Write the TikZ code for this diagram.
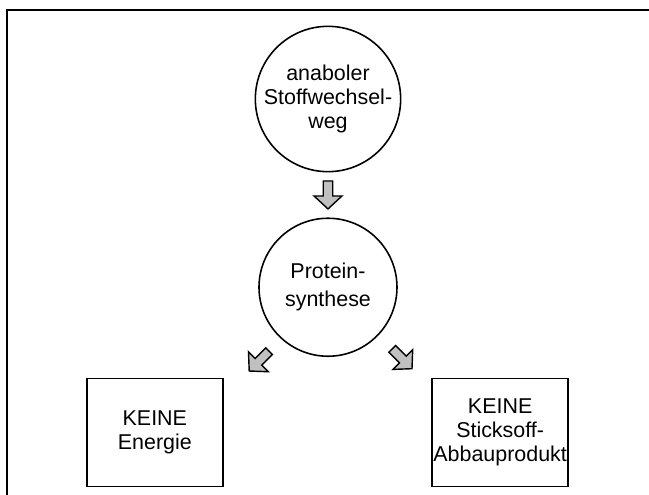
\documentclass[tikz,border=0pt]{standalone}
\usepackage{fontspec}
\setmainfont{Liberation Sans}
\usepackage{tikz}
\usetikzlibrary{positioning,calc}
\usepackage{xcolor}
\definecolor{cArrow}{RGB}{192,192,192}
\tikzset{
  basenode/.style={draw=black,line width=0.9pt,align=center,inner sep=0pt,
                   font=\fontsize{12.2}{13.9}\selectfont},
  circnode/.style={basenode,circle,minimum size=2.76cm},
  boxnode/.style={basenode,rectangle,minimum width=2.72cm,
                  minimum height=2.16cm},
  framelin/.style={line width=1.3pt,color=black},
  blockarr/.pic={
    \draw[fill=cArrow,line width=0.8pt,line join=miter]
      (-0.095,0.28) -- (0.095,0.28) -- (0.095,-0.02) -- (0.28,-0.02)
      -- (0,-0.28) -- (-0.28,-0.02) -- (-0.095,-0.02) -- cycle;
  }
}
\begin{document}
\begin{tikzpicture}[node distance=0.9cm]
  \useasboundingbox (0,0) rectangle (12.98,-9.9);

  % frame
  \draw[framelin] (0.14,-9.9) -- (0.14,-0.2) -- (12.98,-0.2);

  \node[circnode] (anab) at (6.56,-1.98)
      {anaboler\\Stoffwechsel-\\weg};

  \node[circnode,below=of anab,
        font=\fontsize{12.2}{16}\selectfont] (prot)
      {Protein-\\synthese};

  \node[boxnode,below left=0.82cm and 1.1cm of prot] (energ)
      {KEINE\\Energie};
  \node[boxnode,below right=0.82cm and 1.08cm of prot] (stick)
      {KEINE\\Sticksoff-\\Abbauprodukt};

  % block arrows
  \pic at ($(anab.south)!0.5!(prot.north)$) {blockarr};
  \pic[rotate=-45] at ($(prot.center)+(-133:2.02)$) {blockarr};
  \pic[rotate=45] at ($(prot.center)+(-44:2.06)$) {blockarr};

\end{tikzpicture}
\end{document}
